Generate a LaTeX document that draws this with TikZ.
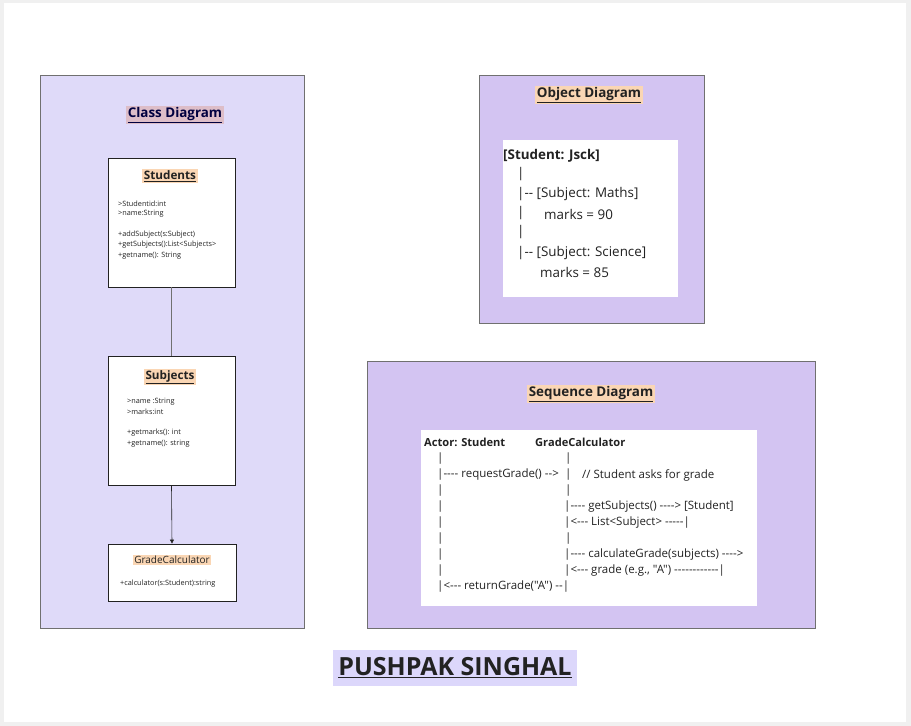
\documentclass[tikz,border=0pt]{standalone}
\usepackage{fontspec}
\setmainfont{Open Sans}[Ligatures=TeXOff]
\usetikzlibrary{arrows.meta, positioning}
\definecolor{classbg}{HTML}{DFDAF9}
\definecolor{diagbg}{HTML}{D3C4F2}
\definecolor{peach}{HTML}{FAD6B4}
\definecolor{rosy}{HTML}{DDBDC8}
\definecolor{namebg}{HTML}{DCD7FB}
\definecolor{framegray}{HTML}{707070}
\definecolor{inkdark}{HTML}{222222}

\begin{document}
\begin{tikzpicture}[x=1pt, y=-1pt,
    frame/.style={draw=framegray, line width=1pt, fill=#1, inner sep=0pt},
    umlbox/.style={draw=inkdark, line width=0.8pt, fill=white, inner sep=0pt},
    heading/.style={fill=#1, inner sep=1.5pt, font=\bfseries\fontsize{13.4}{15}\selectfont, text=inkdark},
    attr/.style={anchor=west, inner sep=0pt, font=\fontsize{7.3}{8}\selectfont, text=inkdark},
    objline/.style={anchor=west, inner sep=0pt, font=\fontsize{13.4}{15}\selectfont, text=inkdark},
    seqline/.style={anchor=west, inner sep=0pt, font=\fontsize{11.5}{13}\selectfont, text=inkdark}
]
    % canvas
    \fill[gray!12] (0,0) rectangle (911,726);
    \fill[white] (4,3) rectangle (906,722);
    \useasboundingbox (0,0) rectangle (911,726);

    % Class diagram
    \node[frame=classbg, minimum width=264pt, minimum height=553pt] (classframe) at (172,351.5) {};
    \node[heading=rosy, text=black!75!blue] (classtitle) at (175,115) {\underline{Class Diagram}};

    \node[umlbox, minimum width=127pt, minimum height=129pt] (students) at (171.5,222.5) {};
    \node[heading=peach, font=\bfseries\fontsize{11.7}{13}\selectfont] (studtitle) at (170,176) {\underline{Students}};
    \node[attr] (sattr1) at (118,204) {>Studentid:int};
    \node[attr] (sattr2) at (118,214) {>name:String};
    \node[attr] (sop1) at (118,235) {+addSubject(s:Subject)};
    \node[attr] (sop2) at (118,245) {+getSubjects():List<Subjects>};
    \node[attr] (sop3) at (118,256) {+getname(): String};

    \node[umlbox, minimum width=127pt, minimum height=129pt] (subjects) at (171.5,420.5) {};
    \node[heading=peach, font=\bfseries\fontsize{11.7}{13}\selectfont] (subjtitle) at (170,377) {\underline{Subjects}};
    \node[attr] (jattr1) at (127,402) {>name :String};
    \node[attr] (jattr2) at (127,412) {>marks:int};
    \node[attr] (jop1) at (127,433) {+getmarks(): int};
    \node[attr] (jop2) at (127,444) {+getname(): string};

    \node[umlbox, minimum width=128pt, minimum height=57pt] (gradecalc) at (172,572.5) {};
    \node[heading=peach, font=\fontsize{10}{12}\selectfont] (gradetitle) at (172,560) {GradeCalculator};
    \node[attr] (gop1) at (120,584) {+calculator(s:Student):string};

    % Links between classes
    \draw[framegray, line width=0.8pt] (students.south) -- (subjects.north);
    \draw[-{Triangle[length=4pt, width=4pt]}, inkdark, line width=0.6pt] (subjects.south) -- (gradecalc.north);

    % Object diagram
    \node[frame=diagbg, minimum width=225pt, minimum height=248pt] (objframe) at (591.5,199) {};
    \node[heading=peach] (objtitle) at (589,95) {\underline{Object Diagram}};
    \node[fill=white, minimum width=175pt, minimum height=157pt, inner sep=0pt] (objbox) at (590.5,218.5) {};
    \node[objline, font=\bfseries\fontsize{13.4}{15}\selectfont] (obj1) at (503,156) {[Student: Jsck]};
    \node[objline] (obj2) at (517,174) {|};
    \node[objline] (obj3) at (517,194) {|-- [Subject: Maths]};
    \node[objline] (obj4) at (517,213) {|};
    \node[objline] (obj4b) at (544,214) {marks = 90};
    \node[objline] (obj5) at (517,232) {|};
    \node[objline] (obj6) at (517,253) {|-- [Subject: Science]};
    \node[objline] (obj7) at (540,272) {marks = 85};

    % Sequence diagram
    \node[frame=diagbg, minimum width=448pt, minimum height=267pt] (seqframe) at (591,494.5) {};
    \node[heading=peach] (seqtitle) at (591,394) {\underline{Sequence Diagram}};
    \node[fill=white, minimum width=336pt, minimum height=176pt, inner sep=0pt] (seqbox) at (589,518) {};
    \node[seqline, font=\bfseries\fontsize{11.1}{13}\selectfont] (actor) at (424,442) {Actor: Student};
    \node[seqline, font=\bfseries\fontsize{11.1}{13}\selectfont] (calc) at (535,442) {GradeCalculator};
    \foreach \y in {459,491,507,523,539,555,571}
        \node[seqline] at (437,\y) {|};
    \foreach \y in {459,475,491,539}
        \node[seqline] at (565,\y) {|};
    \node[seqline] (msg1) at (437,475) {|---- requestGrade() -->};
    \node[seqline] (note1) at (582,475) {// Student asks for grade};
    \node[seqline] (msg2) at (564,507) {|---- getSubjects() ----> [Student]};
    \node[seqline] (msg3) at (564,523) {|<--- List<Subject> -----|};
    \node[seqline] (msg4) at (564,555) {|---- calculateGrade(subjects) ---->};
    \node[seqline] (msg5) at (564,571) {|<--- grade (e.g., "A") ------------|};
    \node[seqline] (msg6) at (437,587) {|<--- returnGrade("A") --|};

    % Author
    \node[fill=namebg, minimum width=244pt, minimum height=36pt, inner sep=0pt,
          font=\bfseries\fontsize{25}{28}\selectfont, text=inkdark] (author) at (455,668) {\underline{PUSHPAK SINGHAL}};
\end{tikzpicture}
\end{document}
